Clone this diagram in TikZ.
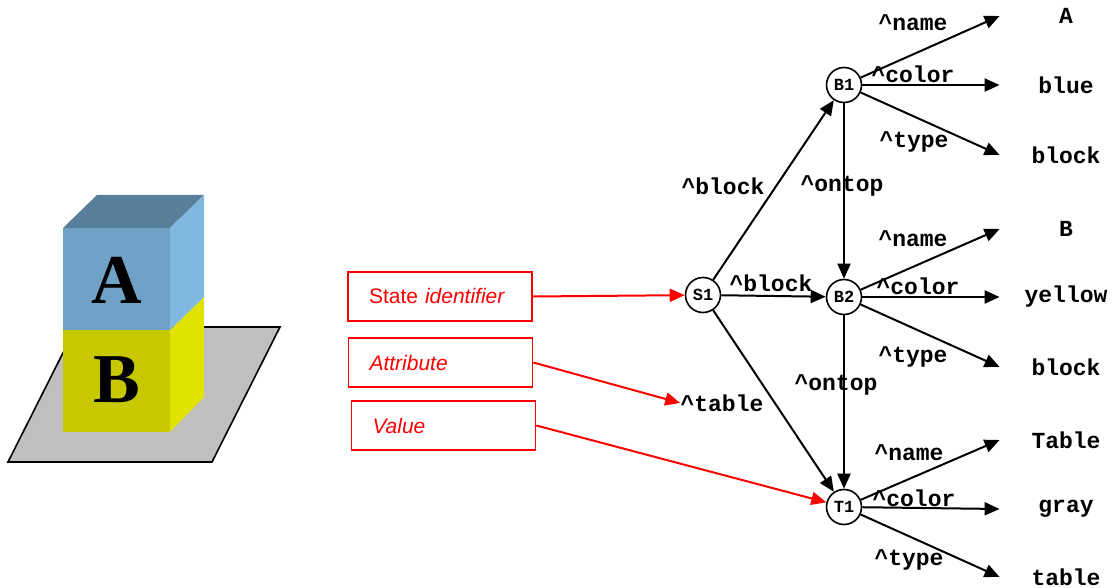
\documentclass[tikz,border=0pt]{standalone}
\usepackage{fontspec}
\setmainfont{Liberation Serif}
\setsansfont{Liberation Sans}
\setmonofont{Liberation Mono}
\usetikzlibrary{arrows.meta}
\definecolor{caraA}{HTML}{6FA2C6}
\definecolor{techoA}{HTML}{577F99}
\definecolor{ladoA}{HTML}{80B8E0}
\definecolor{caraB}{HTML}{C8C800}
\definecolor{ladoB}{HTML}{E2E200}
\begin{document}
\begin{tikzpicture}[x=0.5pt,y=-0.5pt,
  estado/.style={circle,draw,line width=0.8pt,minimum size=17.5pt,inner sep=0pt,font=\ttfamily\bfseries\fontsize{8.5}{8.5}\selectfont},
  etiq/.style={inner sep=0pt,font=\ttfamily\bfseries\fontsize{11.5}{12}\selectfont},
  valor/.style={etiq,minimum width=66pt},
  flecha/.style={line width=1pt,-{Triangle[length=7.5pt,width=6.5pt]}},
  caja/.style={draw=red,line width=0.8pt,text=red,inner xsep=10.5pt,text width=71pt,minimum height=24.5pt,align=left,font=\sffamily\fontsize{10.5}{12}\selectfont},
  flecharoja/.style={red,line width=1pt,-{Triangle[length=7.5pt,width=6.5pt]}}]
\useasboundingbox (0,0) rectangle (1115,588);
% Mesa
\filldraw[fill=gray!50,line width=0.8pt] (8,462) -- (212,462) -- (280,327) -- (76,327) -- cycle;
% Bloque B
\fill[caraB] (63,330) rectangle (170,432);
\fill[ladoB] (170,330) -- (204,297) -- (204,397) -- (170,432) -- cycle;
% Bloque A
\fill[caraA] (63,228) rectangle (170,330);
\fill[techoA] (63,228) -- (97,195) -- (204,195) -- (170,228) -- cycle;
\fill[ladoA] (170,228) -- (204,195) -- (204,297) -- (170,330) -- cycle;
\node[inner sep=0pt] (letraA) at (117,280) {\fontsize{35}{35}\selectfont\bfseries A};
\node[inner sep=0pt] (letraB) at (117,380) {\fontsize{35}{35}\selectfont\bfseries B};
% Cajas
\node[caja] (ident) at (440,296.5) {State \textit{identifier}};
\node[caja] (atrib) at (440.5,362.5) {\textit{Attribute}};
\node[caja] (val) at (443.5,425.5) {\textit{Value}};
% Estados
\node[estado] (S1) at (703,295) {S1};
\node[estado] (B1) at (844,85) {B1};
\node[estado] (B2) at (844,297) {B2};
\node[estado] (T1) at (844,507) {T1};
% Valores
\node[valor] (vA) at (1066,16) {A};
\node[valor] (vblue) at (1066,85) {blue};
\node[valor] (vblock1) at (1066,155) {block};
\node[valor] (vB) at (1066,229) {B};
\node[valor] (vyellow) at (1066,297) {yellow};
\node[valor] (vblock2) at (1066,367) {block};
\node[valor] (vTable) at (1066,440) {Table};
\node[valor] (vgray) at (1066,509) {gray};
\node[valor] (vtable) at (1066,577) {table};
% Etiquetas
\node[etiq] (lblock1) at (723,186) {\textasciicircum{}block};
\node[etiq] (lontop1) at (842,186) {\textasciicircum{}ontop};
\node[etiq] (lblock2) at (771,283) {\textasciicircum{}block};
\node[etiq] (lontop2) at (836,385) {\textasciicircum{}ontop};
\node[etiq] (ltable) at (722,403) {\textasciicircum{}table};
\node[etiq] (lname1) at (913,23) {\textasciicircum{}name};
\node[etiq] (lcolor1) at (913,74) {\textasciicircum{}color};
\node[etiq] (ltype1) at (914,142) {\textasciicircum{}type};
\node[etiq] (lname2) at (913,239) {\textasciicircum{}name};
\node[etiq] (lcolor2) at (918,286) {\textasciicircum{}color};
\node[etiq] (ltype2) at (913,357) {\textasciicircum{}type};
\node[etiq] (lname3) at (909,453) {\textasciicircum{}name};
\node[etiq] (lcolor3) at (914,498) {\textasciicircum{}color};
\node[etiq] (ltype3) at (909,560) {\textasciicircum{}type};
% Aristas
\draw[flecha] (S1) -- (B1);
\draw[flecha] (S1) -- (B2);
\draw[flecha] (S1) -- (T1);
\draw[flecha] (B1) -- (B2);
\draw[flecha] (B2) -- (T1);
\draw[flecha] (B1) -- (vA.west);
\draw[flecha] (B1) -- (vblue.west);
\draw[flecha] (B1) -- (vblock1.west);
\draw[flecha] (B2) -- (vB.west);
\draw[flecha] (B2) -- (vyellow.west);
\draw[flecha] (B2) -- (vblock2.west);
\draw[flecha] (T1) -- (vTable.west);
\draw[flecha] (T1) -- (vgray.west);
\draw[flecha] (T1) -- (vtable.west);
% Flechas rojas
\draw[flecharoja] (ident.east) -- (S1);
\draw[flecharoja] (atrib.east) -- (ltable.west);
\draw[flecharoja] (val.east) -- (T1);
\end{tikzpicture}
\end{document}
